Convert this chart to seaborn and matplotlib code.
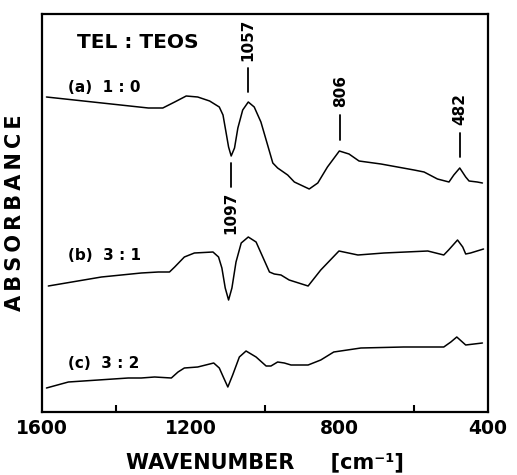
import numpy as np
import pandas as pd
import matplotlib
matplotlib.use("Agg")
import matplotlib.pyplot as plt
import seaborn as sns

# ---- data (absorbance in arbitrary units) ----
wn_a = [1588, 1314, 1275, 1243, 1212, 1181, 1149, 1123, 1113, 1105, 1098, 1091, 1082, 1073,
        1060, 1045, 1029, 1011, 993, 979, 966, 939, 921, 881, 858, 832, 800, 774, 747, 688,
        599, 572, 536, 505, 492, 476, 460, 451, 429, 415]
abs_a = [315, 304, 304, 310, 316, 315, 311, 305, 297, 280, 265, 256, 264, 284,
         302, 310, 305, 290, 267, 249, 244, 237, 230, 223, 229, 245, 261, 258, 251, 248,
         242, 240, 233, 230, 237, 244, 235, 231, 230, 229]

wn_b = [1583, 1440, 1333, 1287, 1257, 1243, 1217, 1190, 1140, 1125, 1116, 1107, 1098, 1089,
        1078, 1064, 1045, 1024, 1006, 988, 975, 957, 935, 884, 850, 801, 750, 680, 562, 519,
        506, 482, 468, 460, 447, 412]
abs_b = [126, 135, 139, 140, 140, 145, 155, 159, 160, 155, 144, 124, 112, 124,
         150, 169, 175, 170, 155, 140, 138, 137, 132, 126, 142, 161, 157, 159, 161, 157,
         162, 172, 165, 158, 159, 163]

wn_c = [1588, 1529, 1368, 1333, 1297, 1252, 1234, 1217, 1181, 1138, 1123, 1111, 1100, 1087,
        1069, 1051, 1024, 997, 984, 966, 948, 930, 884, 850, 815, 742, 627, 519, 500, 484,
        460, 415]
abs_c = [24, 30, 34, 34, 35, 34, 40, 44, 45, 49, 44, 34, 25, 37,
         55, 61, 55, 46, 46, 50, 49, 47, 47, 52, 60, 64, 65, 65, 70, 75,
         67, 69]

series_labels = ["(a) 1:0", "(b) 3:1", "(c) 3:2"]
title_text = "TEL:TEOS"
major_ticks = [1600, 1200, 800, 400]
minor_ticks = [1400, 1000, 600]

peak_labels = ["1057", "1097", "806", "482"]
peak_wn = [1045, 1091, 797, 476]

# ---- build table ----
df = pd.concat([
    pd.DataFrame({"wn": wn_a, "A": abs_a, "s": series_labels[0]}),
    pd.DataFrame({"wn": wn_b, "A": abs_b, "s": series_labels[1]}),
    pd.DataFrame({"wn": wn_c, "A": abs_c, "s": series_labels[2]}),
])

sns.set_style("white")
plt.rcParams["font.family"] = ["DejaVu Sans"]
plt.rcParams["text.color"] = "black"
plt.rcParams["axes.labelcolor"] = "black"
plt.rcParams["xtick.color"] = "black"

fig = plt.figure(figsize=(5.17, 4.75), dpi=100)
ax = fig.add_axes([42 / 517, 1 - 412 / 475, (488 - 42) / 517, (412 - 14) / 475])

for s in series_labels:
    sub = df[df["s"] == s]
    sns.lineplot(data=sub, x="wn", y="A", ax=ax, color="black", linewidth=1.1,
                 estimator=None, sort=False, legend=False)

ax.set_xlim(1600, 400)
ax.set_ylim(0, 398)
ax.set_yticks([])
ax.set_xticks(major_ticks)
ax.set_xticklabels([str(t) for t in major_ticks], fontsize=13.5, fontweight="bold")
ax.set_xticks(minor_ticks, minor=True)
ax.tick_params(axis="x", which="both", bottom=True, direction="in", length=5,
               width=1.5, pad=5, colors="black")
ax.tick_params(axis="x", which="major", length=0)
for sp in ax.spines.values():
    sp.set_linewidth(1.6)
    sp.set_color("black")

ax.set_xlabel("WAVENUMBER     [cm\u207b\u00b9]", fontsize=15, fontweight="bold", labelpad=10)
ax.set_ylabel("\u2009".join("ABSORBANCE"), fontsize=15, fontweight="bold", labelpad=12)

# series labels
for lab, yv in zip(series_labels, [324, 156, 48]):
    ax.text(1530, yv, lab.replace(" ", "  ").replace(":", " : "),
            fontsize=11, fontweight="bold", ha="left", va="center")
ax.text(1507, 369, title_text.replace(":", " : "), fontsize=14.5, fontweight="bold",
        ha="left", va="center")

# peak markers: (label text centre y, line y0, line y1)
peak_geom = [(372, 320, 344), (199, 225, 249), (321, 272, 297), (303, 255, 279)]
for lab, w, (ty, y0, y1) in zip(peak_labels, peak_wn, peak_geom):
    ax.plot([w, w], [y0, y1], color="black", linewidth=1.3)
    ax.text(w, ty, lab, rotation=90, fontsize=11, fontweight="bold",
            ha="center", va="center")

fig.savefig("out.png", dpi=100)
